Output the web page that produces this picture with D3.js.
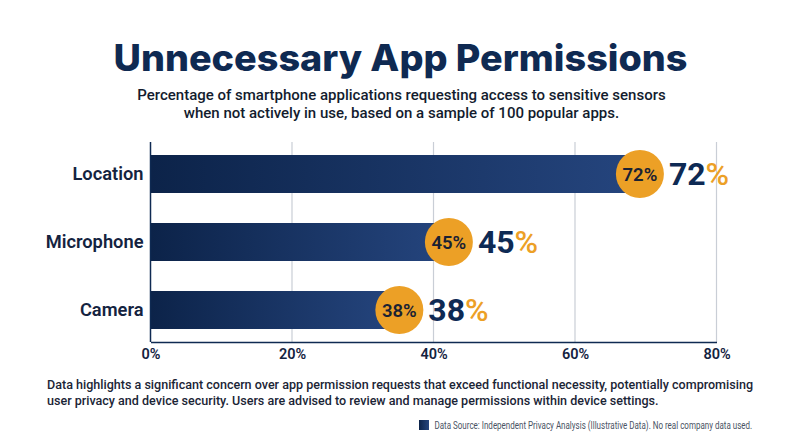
<!DOCTYPE html>
<html>
<head>
<meta charset="utf-8">
<title>Unnecessary App Permissions</title>
<script src="https://d3js.org/d3.v7.min.js"></script>
<style>
    html, body { margin: 0; padding: 0; background: #fff; }
    svg { display: block; }
    text { font-family: Roboto, sans-serif; }
</style>
</head>
<body>
<svg id="chart" width="800" height="447"></svg>
<script>
const categories = ["Location", "Microphone", "Camera"];
const percentages = [72, 45, 38];
const xTicks = [0, 20, 40, 60, 80];
const subtitleLines = [
    "Percentage of smartphone applications requesting access to sensitive sensors",
    "when not actively in use, based on a sample of 100 popular apps."
];
const noteLines = [
    "Data highlights a significant concern over app permission requests that exceed functional necessity, potentially compromising",
    "user privacy and device security. Users are advised to review and manage permissions within device settings."
];
const sourceText = "Data Source: Independent Privacy Analysis (Illustrative Data). No real company data used.";

const navy = "#0f2a52", ink = "#14233f", orange = "#eca026";
const svg = d3.select("#chart");

const defs = svg.append("defs");
const grad = defs.append("linearGradient").attr("id", "barFill");
grad.append("stop").attr("offset", "0%").attr("stop-color", "#0c2349");
grad.append("stop").attr("offset", "100%").attr("stop-color", "#25457e");

// title block
svg.append("text").attr("x", 400.5).attr("y", 71)
    .attr("text-anchor", "middle")
    .attr("textLength", 574).attr("lengthAdjust", "spacingAndGlyphs")
    .style("font-family", "Inter").style("font-weight", 800).style("font-size", "37px")
    .attr("fill", navy).text("Unnecessary App Permissions");

svg.selectAll(".sub").data(subtitleLines).join("text").attr("class", "sub")
    .attr("x", 401.5).attr("y", (d, i) => 100 + i * 17.5)
    .attr("text-anchor", "middle")
    .style("font-weight", 500).style("font-size", "15px")
    .attr("fill", "#131c2e").text(d => d);

// scales
const x = d3.scaleLinear([0, 80], [150.5, 716.5]);
const y = d3.scaleBand(categories, [140, 344]).paddingInner(30 / 68).paddingOuter(15 / 68);
const plotTop = 142, plotBottom = 342;
const markOffset = 20; // bubbles sit just inside the bar end

// gridlines
svg.selectAll(".grid").data(xTicks.slice(1)).join("line").attr("class", "grid")
    .attr("x1", d => x(d)).attr("x2", d => x(d))
    .attr("y1", plotTop).attr("y2", plotBottom)
    .attr("stroke", "#c9ced6").attr("stroke-width", 1.2);

// bars
const barEnd = v => x(v) - markOffset;
svg.selectAll(".bar").data(percentages).join("rect").attr("class", "bar")
    .attr("x", x(0))
    .attr("y", (d, i) => y(categories[i]))
    .attr("width", d => barEnd(d) - x(0))
    .attr("height", y.bandwidth())
    .attr("fill", "url(#barFill)");

// axes
const xAxis = svg.append("g").attr("transform", `translate(0,${plotBottom})`)
    .call(d3.axisBottom(x).tickValues(xTicks).tickFormat(d => d + "%").tickSize(0).tickPadding(7));
xAxis.select(".domain").attr("stroke", navy).attr("stroke-width", 1.5);
xAxis.selectAll("text").attr("fill", ink)
    .style("font-family", "Roboto").style("font-weight", 600).style("font-size", "14.5px");

const yAxis = svg.append("g").attr("transform", `translate(${x(0)},0)`)
    .call(d3.axisLeft(y).tickSize(0).tickPadding(7));
yAxis.select(".domain").remove();
yAxis.selectAll("text").attr("fill", ink)
    .style("font-family", "Roboto").style("font-weight", 600).style("font-size", "18.3px");
svg.append("line").attr("x1", x(0)).attr("x2", x(0)).attr("y1", plotTop).attr("y2", plotBottom)
    .attr("stroke", navy).attr("stroke-width", 1.5);

// bubbles and big value labels
const cy = (d, i) => y(categories[i]) + y.bandwidth() / 2;
svg.selectAll(".bubble").data(percentages).join("circle").attr("class", "bubble")
    .attr("cx", d => barEnd(d)).attr("cy", cy).attr("r", 24).attr("fill", orange);
svg.selectAll(".bubble-label").data(percentages).join("text").attr("class", "bubble-label")
    .attr("x", d => barEnd(d)).attr("y", (d, i) => cy(d, i) + 6.5)
    .attr("text-anchor", "middle")
    .style("font-weight", 600).style("font-size", "18.5px")
    .attr("fill", "#1a2233").text(d => d + "%");

const big = svg.selectAll(".big").data(percentages).join("text").attr("class", "big")
    .attr("x", d => barEnd(d) + 29).attr("y", (d, i) => cy(d, i) + 11)
    .style("font-weight", 700).style("font-size", "32px");
big.append("tspan").attr("fill", "#0e2a54").text(d => d);
big.append("tspan").attr("fill", orange).style("font-weight", 500).text("%");

// note and source
svg.selectAll(".note").data(noteLines).join("text").attr("class", "note")
    .attr("x", 47).attr("y", (d, i) => 389 + i * 15.5)
    .style("font-weight", 500).style("font-size", "12.55px")
    .attr("fill", "#1b2536").text(d => d);

svg.append("rect").attr("x", 419).attr("y", 420).attr("width", 10).attr("height", 10)
    .attr("fill", "url(#barFill)");
// condensed look of the source line: squeeze horizontally to the reference width
const source = svg.append("text")
    .style("font-size", "10.5px").attr("fill", "#4a5364").text(sourceText);
const squeeze = 318 / source.node().getComputedTextLength();
source.attr("transform", `translate(434.5,429) scale(${squeeze},1)`);
</script>
</body>
</html>
